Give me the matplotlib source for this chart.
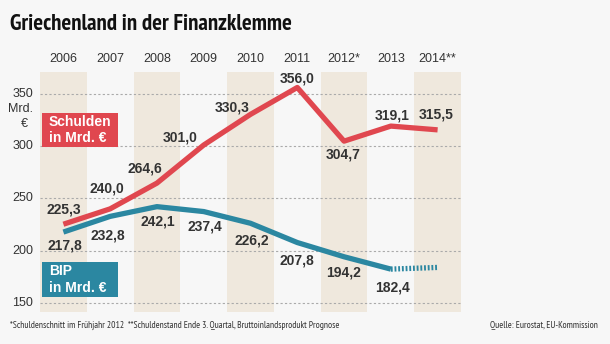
import matplotlib.pyplot as plt
import matplotlib.transforms as mtransforms
from matplotlib.patches import Rectangle

# Daten
years = [2006, 2007, 2008, 2009, 2010, 2011, 2012, 2013, 2014]
year_labels = ["2006", "2007", "2008", "2009", "2010", "2011", "2012*", "2013", "2014**"]
schulden = [225.3, 240.0, 264.6, 301.0, 330.3, 356.0, 304.7, 319.1, 315.5]
bip = [217.8, 232.8, 242.1, 237.4, 226.2, 207.8, 194.2, 182.4]
bip_prognose = 184.0  # 2014, nicht beschriftet
y_ticks = [150, 200, 250, 300, 350]

RED = "#e0474f"
BLUE = "#2b87a1"
BAND = "#efe8dd"
BG = "#f7f7f7"
TEXT = "#333333"
NARROW = ['PT Sans Narrow', 'Roboto Condensed', 'DejaVu Sans']

plt.rcParams['font.family'] = ['Liberation Sans', 'DejaVu Sans']

fig = plt.figure(figsize=(6.10, 3.44), dpi=100, facecolor=BG)
ax = fig.add_axes([40 / 610, 32 / 344, 421 / 610, 240 / 344])
ax.set_facecolor(BG)
ax.set_xlim(2005.5, 2014.5)
ax.set_ylim(141.4, 370.8)
for s in ax.spines.values():
    s.set_visible(False)
ax.set_xticks([])
ax.set_yticks([])

# Spalten-Hintergrund
for i, yr in enumerate(years):
    if i % 2 == 0:
        ax.axvspan(yr - 0.5, yr + 0.5, color=BAND, lw=0, zorder=0)

# Gitterlinien + y-Beschriftung
for t in y_ticks:
    ax.axhline(t, color="#aaaaaa", lw=0.8, ls=(0, (2, 2)), zorder=1)
    ax.annotate(str(t), (2005.5, t), xytext=(-7, 0), textcoords="offset pixels",
                ha="right", va="center", fontsize=9, color=TEXT)
ax.annotate("Mrd.", (2005.5, 350), xytext=(-7, -15), textcoords="offset pixels",
            ha="right", va="center", fontsize=9, color=TEXT)
ax.annotate("€", (2005.5, 350), xytext=(-12, -30), textcoords="offset pixels",
            ha="right", va="center", fontsize=9, color=TEXT)

# Jahre oben
trans = mtransforms.blended_transform_factory(ax.transData, fig.transFigure)
for yr, lbl in zip(years, year_labels):
    ax.text(yr, 1 - 59 / 344, lbl, transform=trans, ha="center", va="center",
            fontsize=9, color=TEXT)

# Linien
ax.plot(years, schulden, color=RED, lw=3.8, solid_capstyle="butt", zorder=3)
ax.plot(years[:len(bip)], bip, color=BLUE, lw=3.8, solid_capstyle="butt", zorder=3)
ax.plot([years[len(bip) - 1], years[-1]], [bip[-1], bip_prognose], color=BLUE,
        lw=3.8, ls=(0, (0.35, 0.35)), zorder=3)

# Wertbeschriftungen (Versatz in Pixeln)
s_off = [(0, 15), (-3, 20), (-12, 15), (-24, 8), (-18, 7), (0, 9), (-1, -13), (1, 11), (-1, 15)]
b_off = [(1, -13), (-2, -19), (1, -15), (1, -15), (1, -17), (0, -18), (-1, -16), (2, -18)]
for yr, v, o in zip(years, schulden, s_off):
    ax.annotate(f"{v:.1f}".replace(".", ","), (yr, v), xytext=o, textcoords="offset pixels",
                ha="center", va="center", fontsize=10, fontweight="bold", color=TEXT, zorder=4)
for yr, v, o in zip(years, bip, b_off):
    ax.annotate(f"{v:.1f}".replace(".", ","), (yr, v), xytext=o, textcoords="offset pixels",
                ha="center", va="center", fontsize=10, fontweight="bold", color=TEXT, zorder=4)

# Legenden-Kästen
for (top, h), col, txt in [((113, 34), RED, "Schulden\nin Mrd. €"), ((262, 35), BLUE, "BIP\nin Mrd. €")]:
    fig.patches.append(Rectangle((42 / 610, 1 - (top + h) / 344), 76 / 610, h / 344,
                                 transform=fig.transFigure, fc=col, ec="none", zorder=5))
    fig.text(49 / 610, 1 - (top + h / 2) / 344, txt, ha="left", va="center", fontsize=10,
             fontweight="bold", color="white", linespacing=1.2, zorder=6)

# Titel und Fußzeile
fig.text(10 / 610, 1 - 25 / 344, "Griechenland in der Finanzklemme", ha="left",
         va="center", fontsize=16.5, fontweight="bold", color="#111111", family=NARROW)
fig.text(10 / 610, 1 - 325 / 344,
         "*Schuldenschnitt im Frühjahr 2012  **Schuldenstand Ende 3. Quartal, Bruttoinlandsprodukt Prognose",
         ha="left", va="center", fontsize=6.8, color=TEXT, family=NARROW)
fig.text(598 / 610, 1 - 325 / 344, "Quelle: Eurostat, EU-Kommission", ha="right",
         va="center", fontsize=6.8, color=TEXT, family=NARROW)

fig.savefig("out.png", dpi=100, facecolor=BG)
